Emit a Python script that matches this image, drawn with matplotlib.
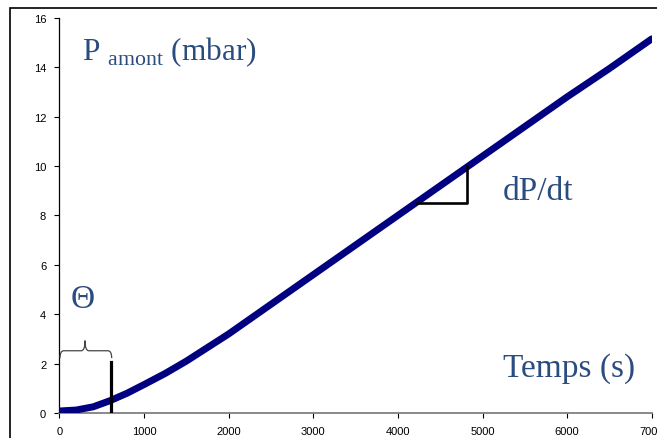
import matplotlib.pyplot as plt
from matplotlib.path import Path
from matplotlib.patches import PathPatch, Rectangle

# pression amont en fonction du temps
temps = [0, 200, 400, 600, 800, 1000, 1250, 1500, 2000, 2500, 3000,
         3500, 4000, 4500, 5000, 5500, 6000, 6500, 7000]
pression = [0.08, 0.12, 0.25, 0.5, 0.8, 1.15, 1.6, 2.1, 3.2, 4.4, 5.6,
            6.8, 8.0, 9.2, 10.4, 11.6, 12.8, 13.95, 15.15]

x_ticks = [0, 1000, 2000, 3000, 4000, 5000, 6000, 7000]
y_ticks = [0, 2, 4, 6, 8, 10, 12, 14, 16]

# temps de retard et triangle de pente
theta = 610
tri_x = [4226, 4814]
tri_y = [8.49, 10.0]

txt_color = '#2B4C7E'
plt.rcParams['mathtext.fontset'] = 'custom'
plt.rcParams['mathtext.rm'] = 'Liberation Serif'

fig = plt.figure(figsize=(6.57, 4.39), dpi=100)
ax = fig.add_axes([0.0904, 0.057, 0.9016, 0.900])

# cadre noir autour du graphique
fig.patches.append(Rectangle((10 / 657, -0.1), 1.2, 1 - 9 / 439 + 0.1,
                             transform=fig.transFigure, fill=False,
                             edgecolor='black', linewidth=1.2))

ax.plot(temps, pression, color='#000080', linewidth=5.0,
        solid_capstyle='round', zorder=3)

# barre verticale theta
ax.plot([theta, theta], [0, 2.05], color='black', linewidth=2.3, zorder=4)

# triangle dP/dt
ax.plot([tri_x[0], tri_x[1], tri_x[1]], [tri_y[0], tri_y[0], tri_y[1]],
        color='black', linewidth=1.9, zorder=4)

# accolade
x0, x1, xc = 7, 618, 303
yb, ym, yt = 2.22, 2.52, 2.93
d = 45
verts = [(x0, yb), (x0, ym), (x0 + d, ym),
         (xc - d, ym),
         (xc, ym), (xc, yt),
         (xc, ym), (xc + d, ym),
         (x1 - d, ym),
         (x1, ym), (x1, yb)]
codes = [Path.MOVETO, Path.CURVE3, Path.CURVE3,
         Path.LINETO,
         Path.CURVE3, Path.CURVE3,
         Path.CURVE3, Path.CURVE3,
         Path.LINETO,
         Path.CURVE3, Path.CURVE3]
ax.add_patch(PathPatch(Path(verts, codes), fill=False, edgecolor='#444444',
                       linewidth=0.9, zorder=4))

serif = 'Liberation Serif'
ax.text(267, 14.33, r'P $_{\mathrm{amont}}$ (mbar)', fontsize=22.5,
        family=serif, color=txt_color, ha='left', va='baseline')
ax.text(134, 4.29, 'Θ', fontsize=24, family=serif, color=txt_color,
        ha='left', va='baseline')
ax.text(5240, 8.66, 'dP/dt', fontsize=24, family=serif, color=txt_color,
        ha='left', va='baseline')
ax.text(5240, 1.5, 'Temps (s)', fontsize=24, family=serif, color=txt_color,
        ha='left', va='baseline')

ax.set_xlim(0, 7000)
ax.set_ylim(0, 16)
ax.set_xticks(x_ticks)
ax.set_yticks(y_ticks)
ax.set_xticklabels([str(t) for t in x_ticks])
ax.set_yticklabels([str(t) for t in y_ticks])

ax.spines['top'].set_visible(False)
ax.spines['right'].set_visible(False)
ax.spines['left'].set_linewidth(0.9)
ax.spines['left'].set_color('black')
ax.spines['bottom'].set_linewidth(1.3)
ax.spines['bottom'].set_color('#808080')
ax.tick_params(axis='both', direction='out', length=3.5, width=0.8,
               labelsize=8, pad=6)
for lab in ax.get_xticklabels() + ax.get_yticklabels():
    lab.set_family('Liberation Sans')

fig.savefig('out.png', dpi=100)
